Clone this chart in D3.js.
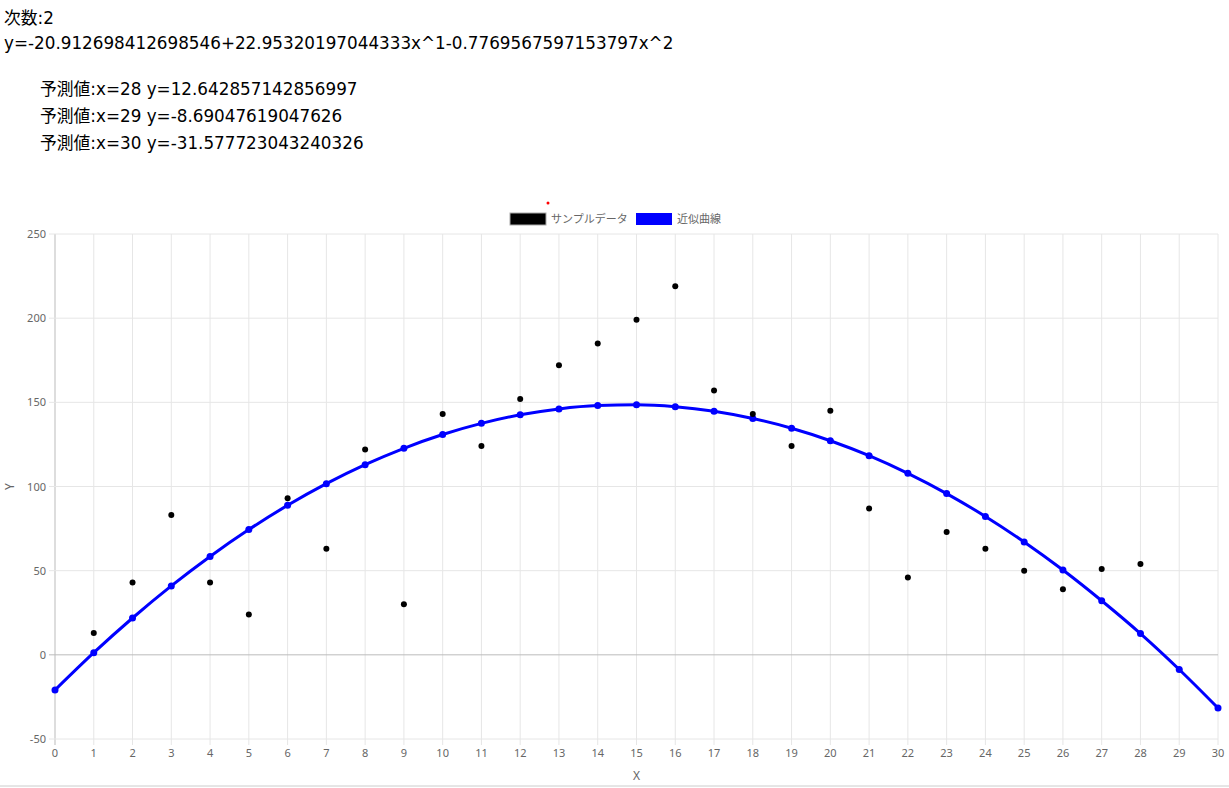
<!DOCTYPE html>
<html><head><meta charset="utf-8">
<script src="https://cdn.jsdelivr.net/npm/d3@7"></script>
<style>
body{margin:0;background:#fff;font-family:"DejaVu Sans","Noto Sans CJK JP",sans-serif;color:#000;}
.t{position:absolute;font-size:16.8px;white-space:nowrap;}
</style></head><body>
<div class="t" style="left:4px;top:5px">次数:2</div>
<div class="t" style="left:4px;top:33px">y=-20.912698412698546+22.95320197044333x^1-0.7769567597153797x^2</div>
<div class="t" style="left:40px;top:76px">予測値:x=28 y=12.642857142856997</div>
<div class="t" style="left:40px;top:103px">予測値:x=29 y=-8.69047619047626</div>
<div class="t" style="left:40px;top:130px">予測値:x=30 y=-31.577723043240326</div>
<svg id="c" width="1229" height="788" style="position:absolute;left:0;top:0"></svg>
<script>
const sampleX = [1,2,3,4,5,6,7,8,9,10,11,12,13,14,15,16,17,18,19,20,21,22,23,24,25,26,27,28];
const sampleY = [13,43,83,43,24,93,63,122,30,143,124,152,172,185,199,219,157,143,124,145,87,46,73,63,50,39,51,54];
const fitX = [0,1,2,3,4,5,6,7,8,9,10,11,12,13,14,15,16,17,18,19,20,21,22,23,24,25,26,27,28,29,30];
const fitY = [-20.91,1.26,21.88,40.95,58.46,74.42,88.82,101.67,112.96,122.70,130.88,137.51,142.58,146.10,148.07,148.50,147.40,144.70,140.40,134.60,127.20,118.30,107.80,95.80,82.20,67.07,50.38,32.14,12.64,-8.69,-31.58];
const yTicks = [-50,0,50,100,150,200,250];
const legendLabels = ["サンプルデータ","近似曲線"];

const svg = d3.select("#c");
const x = d3.scaleLinear().domain([0,30]).range([55,1218]);
const y = d3.scaleLinear().domain([-50,250]).range([739,234]);
const g = svg.append("g").attr("font-family","Noto Sans, sans-serif");

g.selectAll(".vg").data(d3.range(0,31)).join("line")
 .attr("x1",d=>x(d)).attr("x2",d=>x(d)).attr("y1",234).attr("y2",745)
 .attr("stroke",d=>d===0?"#bbb":"#e6e6e6");
g.selectAll(".hg").data(yTicks).join("line")
 .attr("x1",49).attr("x2",1218).attr("y1",d=>y(d)).attr("y2",d=>y(d))
 .attr("stroke",d=>d===0?"#bbb":"#e6e6e6");
g.selectAll(".yl").data(yTicks).join("text")
 .attr("x",46).attr("y",d=>y(d)+4).attr("text-anchor","end")
 .attr("font-size",11).attr("fill","#666").text(d=>d);
g.selectAll(".xl").data(d3.range(0,31)).join("text")
 .attr("x",d=>x(d)).attr("y",757).attr("text-anchor","middle")
 .attr("font-size",11).attr("fill","#666").text(d=>d);
g.append("text").attr("x",x(15)).attr("y",780).attr("text-anchor","middle").attr("font-size",12).attr("fill","#666").text("X");
g.append("text").attr("transform",`translate(14,${y(100)}) rotate(-90)`).attr("text-anchor","middle").attr("font-size",12).attr("fill","#666").text("Y");
svg.append("line").attr("x1",0).attr("x2",1229).attr("y1",786).attr("y2",786).attr("stroke","#ccc");

const line = d3.line().x((d,i)=>x(fitX[i])).y(d=>y(d)).curve(d3.curveMonotoneX);
g.append("path").attr("d",line(fitY)).attr("fill","none").attr("stroke","#0000ff").attr("stroke-width",3);
g.selectAll(".fp").data(fitY).join("circle").attr("cx",(d,i)=>x(fitX[i])).attr("cy",d=>y(d)).attr("r",3.5).attr("fill","#0000ff");
g.selectAll(".sp").data(sampleY).join("circle").attr("cx",(d,i)=>x(sampleX[i])).attr("cy",d=>y(d)).attr("r",3).attr("fill","#000");

g.append("circle").attr("cx",548).attr("cy",203).attr("r",1.5).attr("fill","red");
g.append("rect").attr("x",510).attr("y",213).attr("width",36).attr("height",12).attr("fill","#000").attr("stroke","#aaa");
g.append("text").attr("x",551).attr("y",223).attr("font-size",11).attr("fill","#666").attr("font-family","Noto Sans CJK JP").text(legendLabels[0]);
g.append("rect").attr("x",636).attr("y",213).attr("width",36).attr("height",12).attr("fill","#0000ff");
g.append("text").attr("x",677).attr("y",223).attr("font-size",11).attr("fill","#666").attr("font-family","Noto Sans CJK JP").text(legendLabels[1]);
</script></body></html>
